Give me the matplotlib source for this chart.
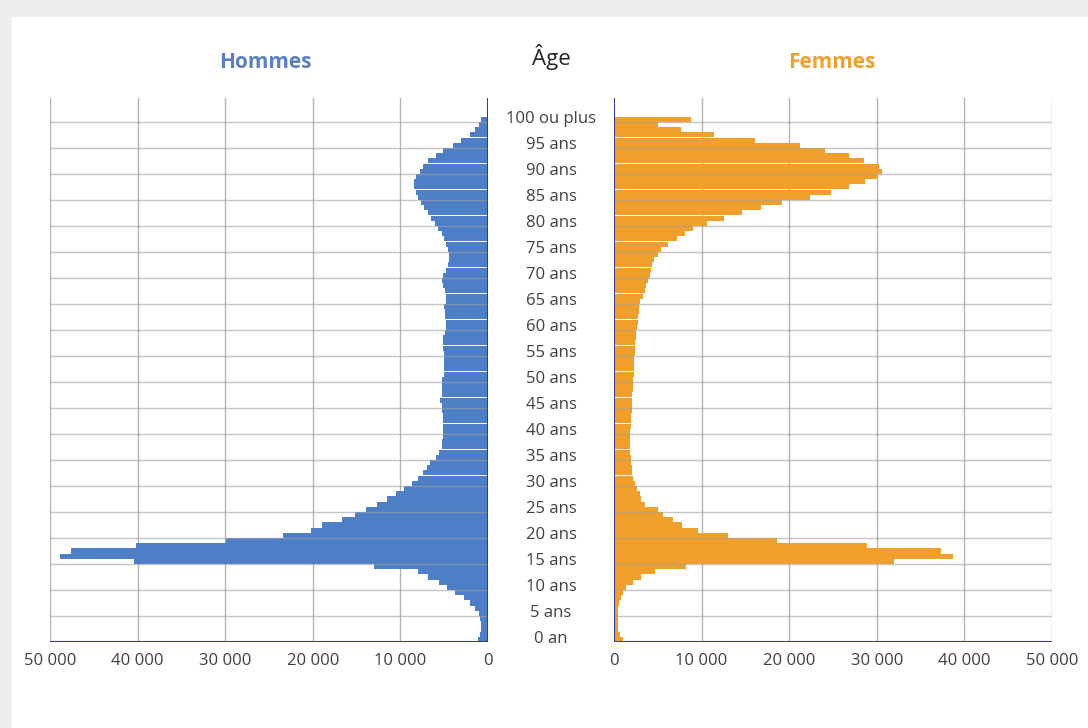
import matplotlib
matplotlib.use("Agg")
from matplotlib import pyplot as plt
from matplotlib.patches import Rectangle
import numpy as np

plt.rcParams['font.family'] = ['Open Sans', 'DejaVu Sans']

ages = list(range(0, 101))
age_labels = ['0 an'] + [f'{a} ans' for a in range(5, 100, 5)] + ['100 ou plus']
label_ages = list(range(0, 101, 5))

hommes = [
    1180, 950, 800, 800, 880, 1070, 1450, 2020, 2790, 3740,
    4700, 5650, 6800, 7950, 13000, 40400, 48900, 47600, 40200, 29900,
    23400, 20200, 19000, 16700, 15200, 13900, 12700, 11500, 10500, 9600,
    8700, 8000, 7400, 7000, 6600, 5900, 5600, 5300, 5300, 5100,
    5100, 5100, 5100, 5150, 5200, 5200, 5450, 5300, 5300, 5200,
    5200, 5050, 5000, 5050, 5000, 5050, 5150, 5100, 5150, 4950,
    4850, 4850, 4950, 4950, 5000, 4850, 4850, 4950, 5100, 5200,
    5100, 4800, 4600, 4450, 4450, 4550, 4750, 5000, 5300, 5700,
    6100, 6500, 6850, 7350, 7700, 8000, 8250, 8400, 8400, 8200,
    7800, 7400, 6850, 5900, 5100, 4000, 3050, 2100, 1500, 1000,
    750]

femmes = [
    1030, 650, 460, 460, 460, 460, 460, 570, 760, 1030,
    1410, 2180, 3130, 4660, 8170, 31970, 38650, 37300, 28900, 18600,
    13060, 9600, 7800, 6760, 5600, 5040, 3500, 3130, 2940, 2670,
    2370, 2180, 2050, 2000, 1950, 1900, 1850, 1850, 1850, 1850,
    1850, 1900, 1900, 1950, 2000, 2050, 2100, 2100, 2150, 2200,
    2200, 2250, 2250, 2300, 2300, 2350, 2400, 2450, 2500, 2550,
    2600, 2700, 2750, 2800, 2900, 3000, 3300, 3500, 3600, 3900,
    4100, 4200, 4350, 4600, 4970, 5400, 6200, 7150, 8100, 9050,
    10600, 12500, 14600, 16800, 19200, 22400, 24800, 26800, 28700, 30060,
    30560, 30250, 28530, 26800, 24140, 21280, 16100, 11460, 7640, 5040,
    8780]

x_ticks = [0, 10000, 20000, 30000, 40000, 50000]
x_labels = ['0', '10 000', '20 000', '30 000', '40 000', '50 000']

blue = '#4e7ec5'
orange = '#f0a02a'
axis_col = '#3a3a9a'
grid_col = '#b4b4b4'
txt_col = '#404040'

fig = plt.figure(figsize=(10.88, 7.28), dpi=100)
fig.patch.set_facecolor('#eeeeee')
fig.patches.append(Rectangle((12 / 1088, 0), 1, (728 - 17) / 728,
                             transform=fig.transFigure, facecolor='white',
                             edgecolor='none', zorder=-10))

W, H = 1088, 728
ax_l = fig.add_axes([50 / W, (H - 642) / H, 438 / W, 544 / H])
ax_r = fig.add_axes([614 / W, (H - 642) / H, 438 / W, 544 / H])

ax_l.barh(ages, hommes, height=0.97, color=blue, zorder=3)
ax_r.barh(ages, femmes, height=0.97, color=orange, zorder=3)

for ax in (ax_l, ax_r):
    ax.set_ylim(-0.5, 104.1)
    ax.set_xlim(0, 50000)
    ax.set_yticks([])
    ax.set_xticks(x_ticks)
    ax.set_xticklabels(x_labels, fontsize=12, color=txt_col)
    ax.tick_params(axis='x', length=0, pad=8)
    for g in x_ticks[1:]:
        ax.axvline(g, color=grid_col, lw=1, zorder=1)
    # horizontal grid shows faintly through the bars
    for g in np.arange(4.5, 100, 5):
        ax.axhline(g, color='#a0a0a0', lw=1, alpha=0.6, zorder=4)
    for s in ax.spines.values():
        s.set_visible(False)
    ax.axhline(-0.5, color=axis_col, lw=1.5, zorder=5)
    ax.axvline(0, color=axis_col, lw=1.5, zorder=5)
    ax.set_facecolor('white')

ax_l.invert_xaxis()

# age labels in the middle
for a, lab in zip(label_ages, age_labels):
    ax_r.text((551 - 614) / 438, a, lab, transform=ax_r.get_yaxis_transform(),
              ha='center', va='center', fontsize=12, color=txt_col)

fig.text(265 / W, 1 - 63 / H, 'Hommes', ha='center', va='center',
         fontsize=15, fontweight='bold', color='#5b7fc2')
fig.text(832 / W, 1 - 63 / H, 'Femmes', ha='center', va='center',
         fontsize=15, fontweight='bold', color='#f0a030')
fig.text(551 / W, 1 - 57 / H, 'Âge', ha='center', va='center',
         fontsize=16, color='#222222')

fig.savefig('out.png', dpi=100)
